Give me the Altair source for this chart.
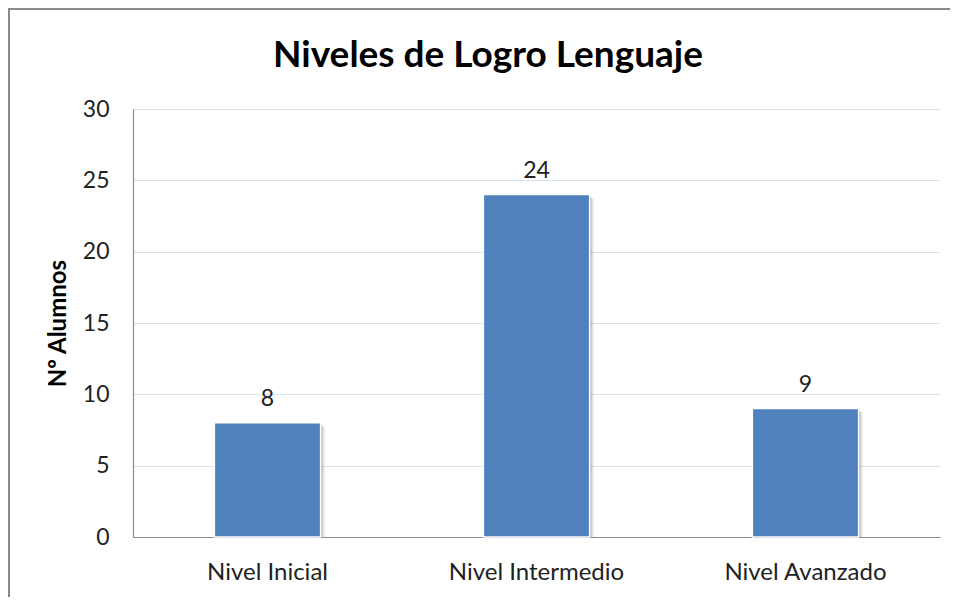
import altair as alt
import pandas as pd

categories = ["Nivel Inicial", "Nivel Intermedio", "Nivel Avanzado"]
values = [8, 24, 9]
y_ticks = [0, 5, 10, 15, 20, 25, 30]
title_text = "Niveles de Logro Lenguaje"

df = pd.DataFrame({"cat": categories, "val": values})

FONT = "Lato"
W, H = 807, 428

x_enc = alt.X("cat:N", sort=categories, title=None,
              scale=alt.Scale(paddingInner=0.605, paddingOuter=0.3025),
              axis=alt.Axis(labelAngle=0, labelAlign="center", labelFontSize=24,
                            labelFont=FONT, labelColor="#222222", labelPadding=23,
                            ticks=False, domainColor="#8c8c8c", domainWidth=1.2))
y_enc = alt.Y("val:Q", title="Nº Alumnos",
              scale=alt.Scale(domain=[0, 30], nice=False),
              axis=alt.Axis(values=y_ticks, labelFontSize=23, labelFont=FONT,
                            labelColor="#222222", labelPadding=24, ticks=False,
                            domainColor="#8c8c8c", domainWidth=1.2,
                            gridColor="#d8e3f0", gridWidth=1,
                            titleFont=FONT, titleFontSize=24, titleFontWeight="bold",
                            titleColor="#000000", titlePadding=12))

base = alt.Chart(df).encode(x=x_enc, y=y_enc)

shadow1 = base.mark_bar(color="#000000", opacity=0.10, xOffset=4, x2Offset=7,
                        yOffset=4).encode(y2=alt.datum(0))
shadow2 = base.mark_bar(color="#000000", opacity=0.18, xOffset=2, x2Offset=4,
                        yOffset=2).encode(y2=alt.datum(0))

bars = base.mark_bar(color="#4f81bd", stroke="#ffffff", strokeWidth=1.5)

labels = base.mark_text(baseline="bottom", dy=-12, fontSize=23, font=FONT,
                        color="#222222").encode(text="val:Q")

title = alt.Chart(pd.DataFrame({"t": [title_text]})).mark_text(
    font=FONT, fontSize=37, fontWeight="bold", color="#000000",
    baseline="alphabetic", align="center").encode(
    text="t:N", x=alt.value(355), y=alt.value(-42))

frame_left = alt.Chart(df).mark_rule(color="#8a8a8a", strokeWidth=2).encode(
    x=alt.value(-124), y=alt.value(-100), y2=alt.value(H + 60))
frame_top = alt.Chart(df).mark_rule(color="#8a8a8a", strokeWidth=2).encode(
    x=alt.value(-125), x2=alt.value(W + 20), y=alt.value(-100))

chart = alt.layer(shadow1, shadow2, bars, labels, title, frame_left, frame_top).properties(
    width=W, height=H,
    autosize=alt.AutoSizeParams(type="none"),
    padding={"left": 125, "top": 101, "right": 10, "bottom": 60},
).configure_view(stroke=None)

chart.save("out.html", embed_options={"renderer": "svg", "actions": False})
